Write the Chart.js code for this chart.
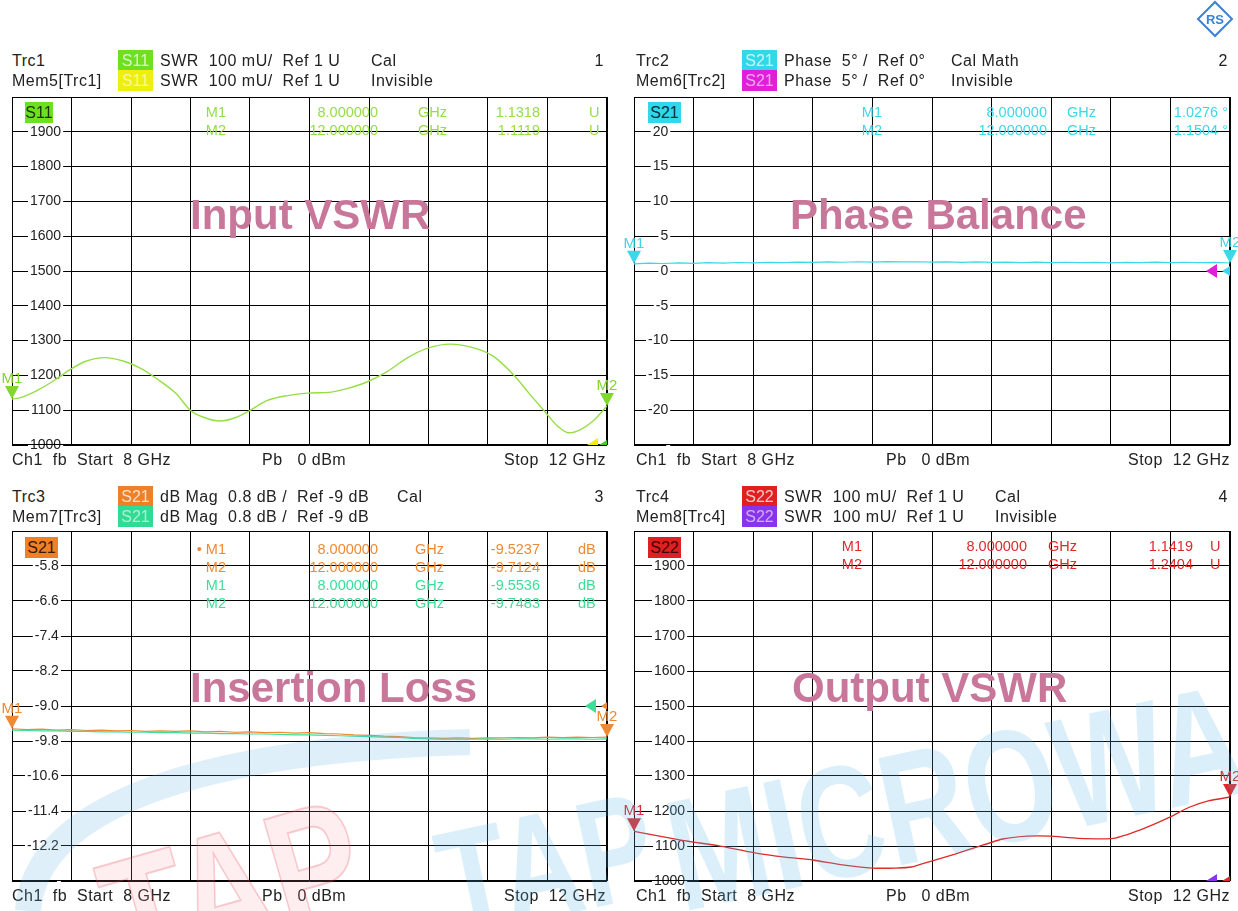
<!DOCTYPE html>
<html>
<head>
<meta charset="utf-8">
<script src="https://cdn.jsdelivr.net/npm/chart.js@4.4.1/dist/chart.umd.min.js"></script>
<style>
  body { margin: 0; background: #fff; }
  #page { position: relative; width: 1238px; height: 911px; overflow: hidden; background: #fff;
          font-family: "Liberation Sans", Arial, sans-serif; color: #222; }
  #page canvas { position: absolute; }
  .t { position: absolute; font-size: 16px; line-height: 16px; white-space: pre; letter-spacing: 0.5px; }
  .m { position: absolute; font-size: 14.5px; line-height: 16px; white-space: pre; }
  .box { position: absolute; font-size: 16px; line-height: 21px; height: 21px; text-align: center; }
  .title { position: absolute; font-size: 42px; line-height: 42px; font-weight: bold; color: #c8779a; white-space: pre; }
  #wm { position: absolute; left: 0; top: 0; pointer-events: none; }
</style>
</head>
<body>
<div id="page"></div>
<script>
// ---- data ----
const freqIn = [8.0, 8.064, 8.171, 8.304, 8.384, 8.491, 8.624, 8.758, 8.865, 8.971, 9.105, 9.198, 9.292, 9.398, 9.505, 9.585, 9.718, 9.852, 9.985, 10.145, 10.252, 10.385, 10.519, 10.652, 10.786, 10.946, 11.106, 11.239, 11.373, 11.479, 11.586, 11.666, 11.746, 11.826, 11.906, 12.0];
const vswrIn = [1132, 1137, 1157, 1191, 1215, 1240, 1251, 1240, 1220, 1191, 1147, 1100, 1079, 1069, 1079, 1096, 1128, 1142, 1149, 1152, 1162, 1181, 1210, 1249, 1277, 1290, 1279, 1254, 1201, 1147, 1094, 1055, 1035, 1045, 1069, 1112];

const freqSweep = [8.0, 8.1, 8.2, 8.3, 8.4, 8.5, 8.6, 8.7, 8.8, 8.9, 9.0, 9.1, 9.2, 9.3, 9.4, 9.5, 9.6, 9.7, 9.8, 9.9, 10.0, 10.1, 10.2, 10.3, 10.4, 10.5, 10.6, 10.7, 10.8, 10.9, 11.0, 11.1, 11.2, 11.3, 11.4, 11.5, 11.6, 11.7, 11.8, 11.9, 12.0];
const phaseBal = [1.03, 1.12, 1.08, 1.16, 1.10, 1.19, 1.13, 1.22, 1.17, 1.25, 1.20, 1.28, 1.23, 1.31, 1.26, 1.33, 1.28, 1.35, 1.30, 1.33, 1.27, 1.32, 1.25, 1.30, 1.23, 1.28, 1.21, 1.27, 1.20, 1.26, 1.19, 1.25, 1.18, 1.24, 1.20, 1.27, 1.21, 1.26, 1.19, 1.23, 1.15];
const lossTrc = [-9.52, -9.54, -9.53, -9.55, -9.54, -9.56, -9.55, -9.57, -9.56, -9.58, -9.57, -9.58, -9.57, -9.59, -9.58, -9.60, -9.59, -9.61, -9.60, -9.62, -9.61, -9.63, -9.64, -9.66, -9.67, -9.69, -9.70, -9.72, -9.73, -9.74, -9.73, -9.74, -9.73, -9.73, -9.72, -9.73, -9.71, -9.72, -9.71, -9.72, -9.71];
const lossMem = [-9.55, -9.56, -9.57, -9.57, -9.58, -9.58, -9.59, -9.59, -9.60, -9.60, -9.61, -9.61, -9.62, -9.62, -9.63, -9.63, -9.64, -9.64, -9.65, -9.66, -9.66, -9.67, -9.68, -9.69, -9.70, -9.71, -9.72, -9.74, -9.75, -9.76, -9.76, -9.76, -9.75, -9.76, -9.75, -9.75, -9.76, -9.75, -9.75, -9.76, -9.75];

const freqOut = [8.0, 8.324, 8.563, 8.802, 9.014, 9.2, 9.386, 9.598, 9.757, 9.863, 9.996, 10.155, 10.315, 10.474, 10.633, 10.792, 10.978, 11.217, 11.403, 11.589, 11.722, 11.854, 12.0];
const vswrOut = [1142, 1116, 1101, 1081, 1068, 1060, 1047, 1037, 1037, 1040, 1057, 1077, 1099, 1120, 1128, 1128, 1122, 1122, 1147, 1181, 1210, 1229, 1240];

const swrTicks = [1000, 1100, 1200, 1300, 1400, 1500, 1600, 1700, 1800, 1900];
const phaseTicks = [-20, -15, -10, -5, 0, 5, 10, 15, 20];
const lossTicks = ['-5.8', '-6.6', '-7.4', '-8.2', '-9.0', '-9.8', '-10.6', '-11.4', '-12.2'];

const page = document.getElementById('page');

function txt(x, y, s, color, right, cls) {
    const d = document.createElement('div');
    d.className = cls || 't';
    d.textContent = s;
    d.style.top = y + 'px';
    if (right) d.style.right = (1238 - x) + 'px'; else d.style.left = x + 'px';
    if (color) d.style.color = color;
    page.appendChild(d);
    return d;
}

function box(x, y, w, s, bg, fg) {
    const d = txt(x, y, s, fg, false, 'box');
    d.style.width = w + 'px';
    d.style.background = bg;
    return d;
}

// axes take no room: the plot fills the layout padding box exactly
function noRoom(s) {
    if (s.isHorizontal()) s.height = 0; else s.width = 0;
    s.paddingTop = s.paddingBottom = s.paddingLeft = s.paddingRight = 0;
}

// frame, marker triangles and reference arrows
function vnaPlugin(markers, refs) {
    return {
        id: 'vna',
        beforeDatasetsDraw(chart) {
            const a = chart.chartArea, ctx = chart.ctx;
            ctx.save();
            ctx.strokeStyle = '#000';
            ctx.lineWidth = 1;
            ctx.strokeRect(a.left + 0.5, a.top + 0.5, a.right - a.left - 1, a.bottom - a.top - 1);
            ctx.restore();
        },
        afterDatasetsDraw(chart) {
            const a = chart.chartArea, ctx = chart.ctx;
            const ys = chart.scales.y;
            ctx.save();
            ctx.beginPath();
            ctx.rect(a.left, a.top, a.right - a.left, a.bottom - a.top);
            ctx.clip();
            refs.forEach(r => {
                const y = ys.getPixelForValue(r.value);
                const tx = a.right - r.off;
                ctx.fillStyle = r.color;
                ctx.beginPath();
                ctx.moveTo(tx, y);
                ctx.lineTo(tx + 11, y - 7);
                ctx.lineTo(tx + 11, y + 7);
                ctx.closePath();
                ctx.fill();
            });
            ctx.restore();
            ctx.save();
            ctx.font = '15px "Liberation Sans", Arial, sans-serif';
            ctx.textAlign = 'center';
            markers.forEach(m => {
                const p = chart.getDatasetMeta(m.ds).data[m.idx];
                ctx.fillStyle = m.color;
                ctx.beginPath();
                ctx.moveTo(p.x, p.y);
                ctx.lineTo(p.x - 7, p.y - 13);
                ctx.lineTo(p.x + 7, p.y - 13);
                ctx.closePath();
                ctx.fill();
                ctx.fillText(m.label, p.x, p.y - 16);
            });
            ctx.restore();
        }
    };
}

function panel(cfg) {
    const c = document.createElement('canvas');
    c.width = cfg.w; c.height = cfg.h;
    c.style.left = cfg.x + 'px'; c.style.top = cfg.y + 'px';
    page.appendChild(c);
    return new Chart(c.getContext('2d'), {
        type: 'line',
        data: { datasets: cfg.datasets },
        options: {
            responsive: false,
            animation: false,
            devicePixelRatio: 1,
            layout: { padding: cfg.pad },
            plugins: { legend: { display: false }, tooltip: { enabled: false } },
            elements: { point: { radius: 0 } },
            scales: {
                x: {
                    type: 'linear', min: 8, max: 12,
                    ticks: { display: false, stepSize: 0.4 },
                    grid: { color: '#000', drawTicks: false },
                    border: { display: false },
                    afterFit: noRoom
                },
                y: {
                    min: cfg.ymin, max: cfg.ymax,
                    ticks: {
                        stepSize: cfg.step,
                        mirror: true,
                        crossAlign: 'far',
                        padding: cfg.labelPad,
                        color: '#222',
                        font: { family: '"Liberation Sans", Arial, sans-serif', size: 14 },
                        showLabelBackdrop: true,
                        backdropColor: '#fff',
                        backdropPadding: { x: 2, y: 0 },
                        callback: (v) => {
                            const i = cfg.tickVals.findIndex(t => Math.abs(Number(t) - v) < 1e-6);
                            return i < 0 ? '' : String(cfg.tickVals[i]);
                        }
                    },
                    grid: { color: '#000', drawTicks: false },
                    border: { display: false },
                    afterFit: noRoom
                }
            }
        },
        plugins: [vnaPlugin(cfg.markers, cfg.refs)]
    });
}

const pts = (xs, ys) => xs.map((x, i) => ({ x: x, y: ys[i] }));

const green = '#95de45', cyan = '#3ad8e8', orange = '#ee8a34', mint = '#3ede98', red = '#dd2a2a';

// ---- panel 1: Input VSWR ----
panel({
    x: 0, y: 87, w: 618, h: 369, pad: { left: 12, top: 10, right: 11, bottom: 11 },
    ymin: 1000, ymax: 2000, step: 100, tickVals: swrTicks, labelPad: 18,
    datasets: [{ data: pts(freqIn, vswrIn), borderColor: green, borderWidth: 1.4, tension: 0.4, cubicInterpolationMode: 'monotone' }],
    markers: [{ ds: 0, idx: 0, label: 'M1', color: '#7fd82a' }, { ds: 0, idx: freqIn.length - 1, label: 'M2', color: '#7fd82a' }],
    refs: [{ value: 1000, off: 20, color: '#f0ee10' }, { value: 1000, off: 8, color: '#44cc22' }]
});

// ---- panel 2: Phase Balance ----
panel({
    x: 622, y: 87, w: 616, h: 369, pad: { left: 12, top: 10, right: 8, bottom: 11 },
    ymin: -25, ymax: 25, step: 5, tickVals: phaseTicks, labelPad: 14,
    datasets: [{ data: pts(freqSweep, phaseBal), borderColor: cyan, borderWidth: 1.2, tension: 0 }],
    markers: [{ ds: 0, idx: 0, label: 'M1', color: cyan }, { ds: 0, idx: freqSweep.length - 1, label: 'M2', color: cyan }],
    refs: [{ value: 0, off: 24, color: '#e020d8' }, { value: 0, off: 8, color: cyan }]
});

// ---- panel 3: Insertion Loss ----
panel({
    x: 0, y: 521, w: 618, h: 370, pad: { left: 12, top: 10, right: 11, bottom: 10 },
    ymin: -13, ymax: -5, step: 0.8, tickVals: lossTicks, labelPad: 15,
    datasets: [
        { data: pts(freqSweep, lossMem), borderColor: mint, borderWidth: 1.2, tension: 0 },
        { data: pts(freqSweep, lossTrc), borderColor: orange, borderWidth: 1.2, tension: 0 }
    ],
    markers: [{ ds: 1, idx: 0, label: 'M1', color: orange }, { ds: 1, idx: freqSweep.length - 1, label: 'M2', color: orange }],
    refs: [{ value: -9, off: 22, color: mint }, { value: -9, off: 6, color: orange }]
});

// ---- panel 4: Output VSWR ----
panel({
    x: 622, y: 521, w: 616, h: 370, pad: { left: 12, top: 10, right: 8, bottom: 10 },
    ymin: 1000, ymax: 2000, step: 100, tickVals: swrTicks, labelPad: 20,
    datasets: [{ data: pts(freqOut, vswrOut), borderColor: red, borderWidth: 1.3, tension: 0.15 }],
    markers: [{ ds: 0, idx: 0, label: 'M1', color: red }, { ds: 0, idx: freqOut.length - 1, label: 'M2', color: red }],
    refs: [{ value: 1000, off: 24, color: '#8833ee' }, { value: 1000, off: 8, color: red }]
});

// ---- headers ----
function header(x, y, n, mem, memBg, trcBg, sp, fmt, extra, invisible) {
    txt(x, y, 'Trc' + n);
    txt(x, y + 20, mem);
    box(x + 106, y - 3, 35, sp, trcBg, 'rgba(255,255,255,0.75)');
    box(x + 106, y + 17, 35, sp, memBg, 'rgba(255,255,255,0.6)');
    txt(x + 148, y, fmt);
    txt(x + 148, y + 20, fmt);
    txt(x + extra.x, y, extra.s);
    if (invisible) txt(x + extra.x, y + 20, 'Invisible');
    txt(x + 592, y, String(n), null, true);
}
header(12, 53, 1, 'Mem5[Trc1]', '#eeee10', '#6ee020', 'S11', 'SWR  100 mU/  Ref 1 U', { x: 359, s: 'Cal' }, true);
header(636, 53, 2, 'Mem6[Trc2]', '#e020d8', '#30d8e8', 'S21', 'Phase  5° /  Ref 0°', { x: 315, s: 'Cal Math' }, true);
header(12, 489, 3, 'Mem7[Trc3]', '#30dc94', '#ee8028', 'S21', 'dB Mag  0.8 dB /  Ref -9 dB', { x: 385, s: 'Cal' }, false);
header(636, 489, 4, 'Mem8[Trc4]', '#8833ee', '#e02020', 'S22', 'SWR  100 mU/  Ref 1 U', { x: 359, s: 'Cal' }, true);

// ---- footers ----
[[12, 452], [636, 452], [12, 888], [636, 888]].forEach(([x, y]) => {
    txt(x, y, 'Ch1  fb  Start  8 GHz');
    txt(x + 250, y, 'Pb   0 dBm');
    txt(x + 594, y, 'Stop  12 GHz', null, true);
});

// ---- trace labels and marker tables inside the plots ----
box(25, 102, 28, 'S11', '#6ee020', '#1a3300');
box(648, 102, 33, 'S21', '#30d8e8', '#003340');
box(25, 537, 33, 'S21', '#ee8028', '#3a1a00');
box(648, 537, 33, 'S22', '#e02020', '#400000');

function mrow(y, color, lab, f, val, unit, cols) {
    txt(cols[0], y, lab, color, true, 'm');
    txt(cols[1], y, f, color, true, 'm');
    txt(cols[2], y, 'GHz', color, false, 'm');
    txt(cols[3], y, val, color, true, 'm');
    if (unit) txt(cols[4], y, unit, color, false, 'm');
}
const colsA = [226, 378, 418, 540, 589];
mrow(104, green, 'M1', '8.000000', '1.1318', 'U', colsA);
mrow(122, green, 'M2', '12.000000', '1.1119', 'U', colsA);
const colsB = [882, 1047, 1067, 1228];
mrow(104, cyan, 'M1', '8.000000', '1.0276 °', '', colsB);
mrow(122, cyan, 'M2', '12.000000', '1.1504 °', '', colsB);
const colsC = [226, 378, 415, 540, 578];
mrow(541, orange, '• M1', '8.000000', '-9.5237', 'dB', colsC);
mrow(559, orange, 'M2', '12.000000', '-9.7124', 'dB', colsC);
mrow(577, mint, 'M1', '8.000000', '-9.5536', 'dB', colsC);
mrow(595, mint, 'M2', '12.000000', '-9.7483', 'dB', colsC);
const colsD = [862, 1027, 1048, 1193, 1210];
mrow(538, red, 'M1', '8.000000', '1.1419', 'U', colsD);
mrow(556, red, 'M2', '12.000000', '1.2404', 'U', colsD);

// ---- big titles ----
txt(190, 194, 'Input VSWR', null, false, 'title');
txt(790, 194, 'Phase Balance', null, false, 'title');
txt(190, 667, 'Insertion Loss', null, false, 'title');
txt(792, 667, 'Output VSWR', null, false, 'title');

// ---- watermark and logo ----
const ns = 'http://www.w3.org/2000/svg';
const svg = document.createElementNS(ns, 'svg');
svg.setAttribute('id', 'wm');
svg.setAttribute('width', 1238);
svg.setAttribute('height', 911);
svg.innerHTML =
    '<path d="M 28 911 C 35 810, 190 750, 470 742" fill="none" stroke="rgba(90,175,230,0.2)" stroke-width="26"/>' +
    '<g transform="translate(125 985) rotate(-16) scale(1 1.3)"><text font-family="Liberation Sans, Arial" font-weight="bold" font-size="135" fill="rgba(250,150,160,0.16)" stroke="rgba(230,60,70,0.25)" stroke-width="1.5">TAP</text></g>' +
    '<g transform="translate(452 938) rotate(-12) scale(1 1.35)"><text font-family="Liberation Sans, Arial" font-weight="bold" font-size="112" fill="rgba(90,180,235,0.22)">TAP</text></g>' +
    '<g transform="translate(682 912) rotate(-12) scale(1 1.35)"><text font-family="Liberation Sans, Arial" font-weight="bold" font-size="118" fill="rgba(90,180,235,0.22)">MICROWA</text></g>' +
    '<g transform="translate(1215 19) rotate(45)"><rect x="-12" y="-12" width="24" height="24" fill="#fff" stroke="#3b82d6" stroke-width="2"/></g>' +
    '<text x="1215" y="24" text-anchor="middle" font-family="Liberation Sans, Arial" font-size="13" font-weight="bold" fill="#3b82d6">RS</text>';
page.appendChild(svg);
</script>
</body>
</html>
